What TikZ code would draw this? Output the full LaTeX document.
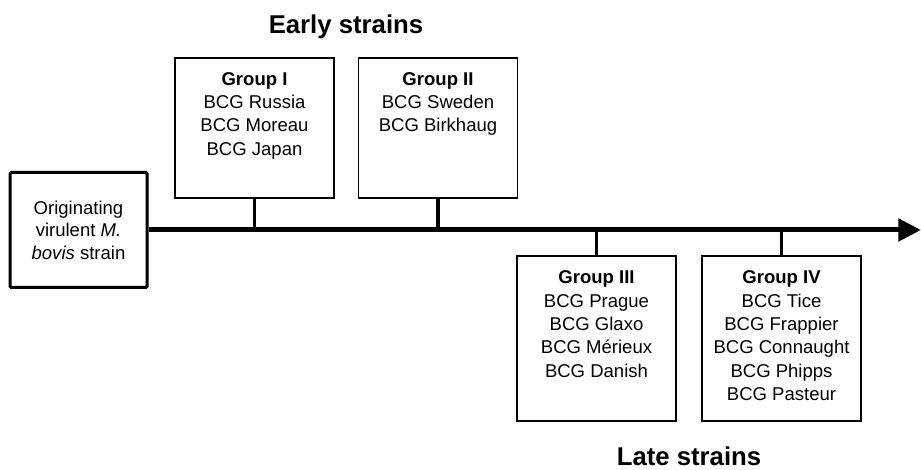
\documentclass[tikz,border=0pt]{standalone}
\usepackage{fontspec}
\setmainfont{Liberation Sans}
\usetikzlibrary{positioning,arrows.meta}

\begin{document}
\begin{tikzpicture}[x=0.75pt, y=0.75pt,
  grpbox/.style={draw=black, line width=1.1pt, minimum width=119.5pt, inner sep=0pt},
  grptext/.style={align=center, inner sep=0pt, font=\fontsize{13.9pt}{17.5pt}\selectfont},
  strainlabel/.style={anchor=base, font=\fontsize{19.3pt}{23pt}\selectfont\bfseries},
  stem/.style={line width=2.3pt}]
  \useasboundingbox (0,0) rectangle (921,470);

  % Originating strain
  \node[draw, line width=2.25pt, rounded corners=1pt, minimum width=102.75pt, minimum height=86.25pt,
    inner sep=0pt, align=center, font=\fontsize{13.9pt}{16.9pt}\selectfont] (orig) at (78.5,240)
    {Originating\\virulent \textit{M.}\\\textit{bovis} strain};

  % Timeline
  \coordinate (tip) at (921,240);
  \draw[line width=3.75pt, -{Triangle[length=17pt, width=16.5pt]}] (orig.east) -- (tip);

  % Early strains (above)
  \node[strainlabel] (early) at (346,436) {Early strains};
  \node[grpbox, minimum height=105pt] (g1) at (254.5,342) {};
  \node[grptext, below=11pt of g1.north] (g1txt) {\textbf{Group I}\\BCG Russia\\BCG Moreau\\BCG Japan};
  \node[grpbox, minimum height=105pt] (g2) at (438,342) {};
  \node[grptext, below=11pt of g2.north] (g2txt) {\textbf{Group II}\\BCG Sweden\\BCG Birkhaug};
  \draw[stem] (g1.south) -- (g1.south |- tip);
  \draw[stem] (g2.south) -- (g2.south |- tip);

  % Late strains (below)
  \node[grpbox, minimum height=123.75pt] (g3) at (596.5,131.5) {};
  \node[grptext, below=11.5pt of g3.north] (g3txt) {\textbf{Group III}\\BCG Prague\\BCG Glaxo\\BCG Mérieux\\BCG Danish};
  \node[grpbox, minimum height=123.75pt] (g4) at (781.5,131.5) {};
  \node[grptext, below=11.5pt of g4.north] (g4txt) {\textbf{Group IV}\\BCG Tice\\BCG Frappier\\BCG Connaught\\BCG Phipps\\BCG Pasteur};
  \draw[stem] (g3.north) -- (g3.north |- tip);
  \draw[stem] (g4.north) -- (g4.north |- tip);
  \node[strainlabel] (late) at (689,4) {Late strains};
\end{tikzpicture}
\end{document}
